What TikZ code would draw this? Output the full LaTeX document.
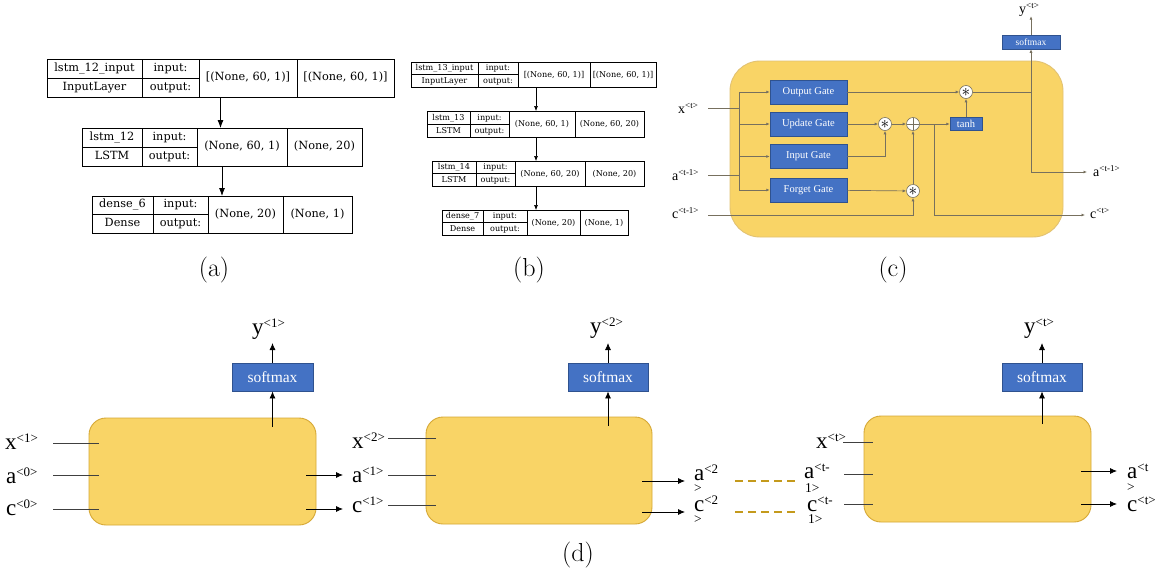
\documentclass[tikz,border=0pt]{standalone}
\usepackage{fontspec}
\newfontfamily\gvfont{DejaVu Serif}
\newfontfamily\offfont{Liberation Serif}
\usetikzlibrary{arrows.meta}

\definecolor{cellyellow}{HTML}{F9D466}
\definecolor{celledge}{HTML}{D6A835}
\definecolor{gateblue}{HTML}{4472C4}
\definecolor{gateedge}{HTML}{2F528F}
\definecolor{wirecol}{HTML}{77705E}
\definecolor{dashgold}{HTML}{C49A1C}

% letter with a raised tag
\newcommand{\lbl}[3]{#1\raisebox{0.65ex}{\fontsize{#3}{#3}\selectfont #2}}

% one keras layer box: id, five x cuts, top, bottom, name/type/in/out
\newcommand{\layerrow}[9]{%
  \node[layer, minimum width={#6pt-#2pt}, minimum height={#8pt-#7pt}] (#1) at ({(#2+#6)/2},{(#7+#8)/2}) {};
  \draw[layer] (#3,#7) -- (#3,#8) (#4,#7) -- (#4,#8) (#5,#7) -- (#5,#8)
    (#2,{(#7+#8)/2}) -- (#4,{(#7+#8)/2});
  \foreach \lname/\ltype/\lin/\lout in {#9}{
    \node[cellt] (#1-name) at ({(#2+#3)/2},{(3*#7+#8)/4}) {\lname};
    \node[cellt] (#1-type) at ({(#2+#3)/2},{(#7+3*#8)/4}) {\ltype};
    \node[cellt] (#1-inl) at ({(#3+#4)/2},{(3*#7+#8)/4}) {input:};
    \node[cellt] (#1-outl) at ({(#3+#4)/2},{(#7+3*#8)/4}) {output:};
    \node[cellt] (#1-in) at ({(#4+#5)/2},{(#7+#8)/2}) {\lin};
    \node[cellt] (#1-out) at ({(#5+#6)/2},{(#7+#8)/2}) {\lout};
  }%
}

\begin{document}
\begin{tikzpicture}[x=1pt, y=-1pt,
    layer/.style={draw, line width=0.8pt, inner sep=0pt, outer sep=0pt},
    cellt/.style={inner sep=0pt, text height=0.72em, text depth=0.22em},
    flowa/.style={-{Latex[length=8pt,width=6pt]}, line width=0.8pt},
    flowb/.style={-{Latex[length=5pt,width=4pt]}, line width=0.6pt},
    cellbox/.style={draw=celledge, fill=cellyellow, line width=0.9pt, inner sep=0pt},
    gate/.style={draw=gateedge, fill=gateblue, text=white, inner sep=0pt, line width=0.5pt,
      font=\offfont\fontsize{10.5}{11}\selectfont},
    op/.style={circle, draw=wirecol, fill=white, minimum size=13pt, inner sep=0pt, line width=0.6pt},
    wire/.style={draw=wirecol, line width=0.7pt},
    tipc/.style={-{Latex[length=3.5pt,width=3pt]}},
    clab/.style={inner sep=0pt, font=\offfont\fontsize{14}{15}\selectfont},
    dlab/.style={inner sep=0pt, font=\offfont\fontsize{23}{24}\selectfont},
    dlabt/.style={dlab, text depth=0pt},
    dlabb/.style={inner sep=0pt, text height=0.66em, font=\offfont\fontsize{13.5}{14}\selectfont},
    dwire/.style={draw=black!75, line width=0.8pt},
    dflow/.style={-{Latex[length=7pt,width=6pt]}, line width=0.8pt},
    captext/.style={inner sep=0pt, font=\fontsize{26}{30}\selectfont}]

  \fill[white] (0,0) rectangle (1159,573);
  \useasboundingbox (0,0) rectangle (1159,573);

  % (a)
  \begin{scope}[font=\gvfont\fontsize{11.3}{13}\selectfont]
    \layerrow{a1}{47}{142}{199}{297}{394}{59}{97}{{lstm\_12\_input}/InputLayer/{[(None, 60, 1)]}/{[(None, 60, 1)]}}
    \layerrow{a2}{82}{142}{197}{287}{362}{128}{166}{{lstm\_12}/LSTM/{(None, 60, 1)}/{(None, 20)}}
    \layerrow{a3}{92}{153}{208}{283}{352}{196}{233}{{dense\_6}/Dense/{(None, 20)}/{(None, 1)}}
  \end{scope}
  \draw[flowa] (a1.south) -- (a1.south |- a2.north);
  \draw[flowa] (a2.south) -- (a2.south |- a3.north);

  % (b)
  \begin{scope}[font=\gvfont\fontsize{8.1}{9}\selectfont, layer/.append style={line width=0.6pt}]
    \layerrow{b1}{411}{478}{518}{590}{656}{62}{87}{{lstm\_13\_input}/InputLayer/{[(None, 60, 1)]}/{[(None, 60, 1)]}}
    \layerrow{b2}{427}{470}{509}{575}{644}{111}{137}{{lstm\_13}/LSTM/{(None, 60, 1)}/{(None, 60, 20)}}
    \layerrow{b3}{432}{476}{515}{585}{644}{161}{186}{{lstm\_14}/LSTM/{(None, 60, 20)}/{(None, 20)}}
    \layerrow{b4}{442}{483}{527}{580}{628}{210}{235}{{dense\_7}/Dense/{(None, 20)}/{(None, 1)}}
  \end{scope}
  \draw[flowb] (b1.south -| 536,0) -- (b2.north -| 536,0);
  \draw[flowb] (b2.south -| 536,0) -- (b3.north -| 536,0);
  \draw[flowb] (b3.south -| 536,0) -- (b4.north -| 536,0);

  % (c) one lstm cell
  \node[cellbox, draw=celledge!70, rounded corners=30pt, minimum width=333, minimum height=176] (cellc) at (896.5,149) {};
  \node[gate, minimum width=77, minimum height=24] (og) at (808.5,92) {Output Gate};
  \node[gate, minimum width=77, minimum height=24] (ug) at (808.5,124) {Update Gate};
  \node[gate, minimum width=77, minimum height=24] (ig) at (808.5,156.5) {Input Gate};
  \node[gate, minimum width=77, minimum height=24] (fg) at (808.5,190) {Forget Gate};
  \node[gate, minimum width=32, minimum height=13] (th) at (966,124) {tanh};
  \node[gate, minimum width=58, minimum height=14, font=\offfont\fontsize{9.5}{10}\selectfont] (smc) at (1031,42) {softmax};
  \node[op] (m1) at (885,124) {\fontsize{16}{16}\selectfont$\ast$};
  \node[op] (m2) at (913,191) {\fontsize{16}{16}\selectfont$\ast$};
  \node[op] (m3) at (966,92) {\fontsize{16}{16}\selectfont$\ast$};
  \node[op, path picture={\draw[line width=0.8pt]
      (path picture bounding box.north) -- (path picture bounding box.south)
      (path picture bounding box.west) -- (path picture bounding box.east);}] (pl) at (913,124) {};

  \node[clab, anchor=base west] (xtl) at (678,113) {\lbl{x}{<t>}{9}};
  \node[clab, anchor=base west] (at1l) at (672,180) {\lbl{a}{<t-1>}{9}};
  \node[clab, anchor=base west] (ct1l) at (672,218) {\lbl{c}{<t-1>}{9}};
  \node[clab, anchor=base west] (ytl) at (1019,13) {\lbl{y}{<t>}{9}};
  \node[clab, anchor=base west] (atol) at (1093,176) {\lbl{a}{<t-1>}{9}};
  \node[clab, anchor=base west] (ctol) at (1090,218) {\lbl{c}{<t>}{9}};

  \coordinate (bus) at (739,0);
  \coordinate (xin) at (708,108);
  \coordinate (ain) at (708,175);
  \coordinate (cin) at (708,215);
  \coordinate (cbr) at (934,124);
  \coordinate (abr) at (1031,92);
  \coordinate (aout) at (1087,172);
  \coordinate (cout) at (1085,215);

  \draw[wire] (xin) -- (xin -| bus);
  \draw[wire] (ain) -- (ain -| bus);
  \draw[wire] (bus |- og) -- (bus |- fg);
  \foreach \g in {og,ug,ig,fg}
    \draw[wire, tipc] (bus |- \g) -- (\g);
  \draw[wire, tipc] (ug) -- (m1);
  \draw[wire, tipc] (ig) -| (m1);
  \draw[wire, tipc] (m1) -- (pl);
  \draw[wire, tipc] (fg) -- (m2);
  \draw[wire, tipc] (cin) -| (m2);
  \draw[wire, tipc] (m2) -- (pl);
  \draw[wire, tipc] (pl) -- (th);
  \draw[wire, tipc] (cbr) |- (cout);
  \draw[wire, tipc] (th) -- (m3);
  \draw[wire, tipc] (og) -- (m3);
  \draw[wire] (m3) -- (abr);
  \draw[wire, tipc] (abr) -- (smc);
  \draw[wire, tipc] (abr) |- (aout);
  \draw[wire, tipc] (smc) -- (smc |- ytl.south);

  % (d) unrolled over time
  \node[cellbox, rounded corners=17pt, minimum width=227, minimum height=107] (cell1) at (202.5,471.5) {};
  \node[cellbox, rounded corners=17pt, minimum width=226, minimum height=107] (cell2) at (539,470.5) {};
  \node[cellbox, rounded corners=17pt, minimum width=227, minimum height=106] (cell3) at (977.5,469) {};
  \node[gate, minimum width=81, minimum height=28, line width=0.8pt, font=\offfont\fontsize{15.5}{16}\selectfont] (sm1) at (272.5,377) {softmax};
  \node[gate, minimum width=80, minimum height=28, line width=0.8pt, font=\offfont\fontsize{15.5}{16}\selectfont] (sm2) at (608,377) {softmax};
  \node[gate, minimum width=80, minimum height=28, line width=0.8pt, font=\offfont\fontsize{15.5}{16}\selectfont] (sm3) at (1042,377) {softmax};

  \node[dlab, anchor=base west] (y1) at (252,334) {\lbl{y}{<1>}{13}};
  \node[dlab, anchor=base west] (y2) at (590,333) {\lbl{y}{<2>}{13}};
  \node[dlab, anchor=base west] (y3) at (1024,333) {\lbl{y}{<t>}{13}};
  \coordinate (h1) at (272.5,427);
  \coordinate (h2) at (608,426);
  \coordinate (h3) at (1042,424);
  \foreach \i in {1,2,3}{
    \draw[dflow] (h\i) -- (sm\i);
    \draw[dflow] (sm\i) -- (sm\i |- 0,343);
  }

  % cell 1
  \node[dlab, anchor=base west] (x1l) at (5,449) {\lbl{x}{<1>}{13}};
  \node[dlab, anchor=base west] (a0l) at (6,483) {\lbl{a}{<0>}{13}};
  \node[dlab, anchor=base west] (c0l) at (6,515) {\lbl{c}{<0>}{13}};
  \draw[dwire] (53,443) coordinate (x1s) -- (99,443) coordinate (x1e);
  \draw[dwire] (53,475) coordinate (a0s) -- (99,475) coordinate (a0e);
  \draw[dwire] (53,509) coordinate (c0s) -- (99,509) coordinate (c0e);
  \draw[dflow] (306,475) coordinate (a1s) -- (343,475) coordinate (a1t);
  \draw[dflow] (306,509) coordinate (c1s) -- (343,509) coordinate (c1t);

  % cell 2
  \node[dlab, anchor=base west] (x2l) at (352,448) {\lbl{x}{<2>}{13}};
  \node[dlab, anchor=base west] (a1l) at (352,482) {\lbl{a}{<1>}{13}};
  \node[dlab, anchor=base west] (c1l) at (352,512) {\lbl{c}{<1>}{13}};
  \draw[dwire] (388,438) coordinate (x2s) -- (436,438) coordinate (x2e);
  \draw[dwire] (388,475) coordinate (a1u) -- (436,475) coordinate (a1e);
  \draw[dwire] (388,505) coordinate (c1u) -- (436,505) coordinate (c1e);
  \draw[dflow] (642,481) coordinate (a2s) -- (685,481) coordinate (a2t);
  \draw[dflow] (642,512) coordinate (c2s) -- (685,512) coordinate (c2t);
  \node[dlabt, anchor=base west] (a2l) at (694,480) {\lbl{a}{<2}{13}};
  \node[dlabb, anchor=base west] (a2lb) at (694,492) {>};
  \node[dlabt, anchor=base west] (c2l) at (694,511) {\lbl{c}{<2}{13}};
  \node[dlabb, anchor=base west] (c2lb) at (694,523) {>};
  \draw[dashgold, line width=1.5pt, dash pattern=on 8pt off 5pt] (735,481) coordinate (ga) -- (795,481) coordinate (gb);
  \draw[dashgold, line width=1.5pt, dash pattern=on 8pt off 5pt] (735,512) coordinate (gc) -- (795,512) coordinate (gd);

  % cell 3
  \node[dlab, anchor=base west] (xtl3) at (816,448) {\lbl{x}{<t>}{13}};
  \node[dlabt, anchor=base west] (atl3) at (804,478) {\lbl{a}{<t-}{13}};
  \node[dlabb, anchor=base west] (atl3b) at (805,492) {1>};
  \node[dlabt, anchor=base west] (ctl3) at (807,511) {\lbl{c}{<t-}{13}};
  \node[dlabb, anchor=base west] (ctl3b) at (808,523) {1>};
  \draw[dwire] (843,442) coordinate (x3s) -- (873,442) coordinate (x3e);
  \draw[dwire] (844,474) coordinate (a3u) -- (873,474) coordinate (a3e);
  \draw[dwire] (844,504) coordinate (c3u) -- (873,504) coordinate (c3e);
  \draw[dflow] (1081,471) coordinate (a3s) -- (1117,471) coordinate (a3t);
  \draw[dflow] (1081,504) coordinate (c3s) -- (1117,504) coordinate (c3t);
  \node[dlabt, anchor=base west] (atol3) at (1127,478) {\lbl{a}{<t}{13}};
  \node[dlabb, anchor=base west] (atol3b) at (1127,491) {>};
  \node[dlab, anchor=base west] (ctol3) at (1127,511) {\lbl{c}{<t>}{13}};

  % captions
  \node[captext] (capa) at (214,270) {(a)};
  \node[captext] (capb) at (529,270) {(b)};
  \node[captext] (capc) at (893,270) {(c)};
  \node[captext] (capd) at (578,555) {(d)};
\end{tikzpicture}
\end{document}
